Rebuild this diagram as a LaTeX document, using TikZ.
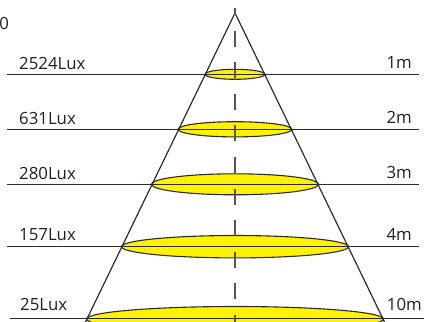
\documentclass[tikz,border=0pt]{standalone}
\usepackage{fontspec}
\setmainfont{Open Sans}
\definecolor{ln}{HTML}{2B2B2B}
\definecolor{txt}{HTML}{231F20}
\definecolor{dsh}{HTML}{555555}
\definecolor{yel}{HTML}{FFF200}
\tikzset{
  lvl/.style={draw=ln, line width=1.2pt},
  cone/.style={draw=ln, line width=1.2pt},
  spot/.style={draw=ln, fill=yel, line width=1.1pt},
  axisline/.style={draw=dsh, line width=1.8pt, dash pattern=on 16pt off 15.6pt, dash phase=9pt},
  lab/.style={inner sep=0pt, text=txt, font=\fontsize{16.8}{18}\selectfont}
}
\begin{document}
\begin{tikzpicture}[x=1pt,y=-1pt]
\useasboundingbox (0,0) rectangle (424,322);
% ellipses
\draw[spot] (235,74.3) ellipse [x radius=30, y radius=5];
\draw[spot] (235,129.3) ellipse [x radius=57, y radius=7.6];
\draw[spot] (235,184.3) ellipse [x radius=83.5, y radius=10.5];
\draw[spot] (235,246.7) ellipse [x radius=113.5, y radius=11.2];
\draw[spot] (235,319) ellipse [x radius=148.5, y radius=12.5];
% level lines
\coordinate (l1a) at (7,74.3);  \coordinate (l1b) at (419,74.3);
\coordinate (l2a) at (7,129.3); \coordinate (l2b) at (419,129.3);
\coordinate (l3a) at (7,184.3); \coordinate (l3b) at (419,184.3);
\coordinate (l4a) at (7,246.7); \coordinate (l4b) at (419,246.7);
\coordinate (l5a) at (10,318.3); \coordinate (l5b) at (424,318.3);
\draw[lvl] (l1a) -- (l1b);
\draw[lvl] (l2a) -- (l2b);
\draw[lvl] (l3a) -- (l3b);
\draw[lvl] (l4a) -- (l4b);
\draw[lvl] (l5a) -- (l5b);
% cone
\coordinate (apex) at (235,13);
\coordinate (bl) at (85,323);
\coordinate (br) at (385,323);
\draw[cone] (bl) -- (apex) -- (br);
% axis
\coordinate (axt) at (235,8);
\coordinate (axb) at (235,323);
\draw[axisline] (axt) -- (axb);
% labels
\node[lab, anchor=base east] (t0) at (9.3,29) {0};
\node[lab, anchor=base west] (lux1) at (19,69.5) {2524Lux};
\node[lab, anchor=base west] (lux2) at (19,124.3) {631Lux};
\node[lab, anchor=base west] (lux3) at (19,179.3) {280Lux};
\node[lab, anchor=base west] (lux4) at (19,240.5) {157Lux};
\node[lab, anchor=base west] (lux5) at (20,310) {25Lux};
\node[lab, anchor=base east] (m1) at (412,68.5) {1m};
\node[lab, anchor=base east] (m2) at (412,123.5) {2m};
\node[lab, anchor=base east] (m3) at (412,178.5) {3m};
\node[lab, anchor=base east] (m4) at (412,240.5) {4m};
\node[lab, anchor=base east] (m10) at (422,310) {10m};
\end{tikzpicture}
\end{document}
